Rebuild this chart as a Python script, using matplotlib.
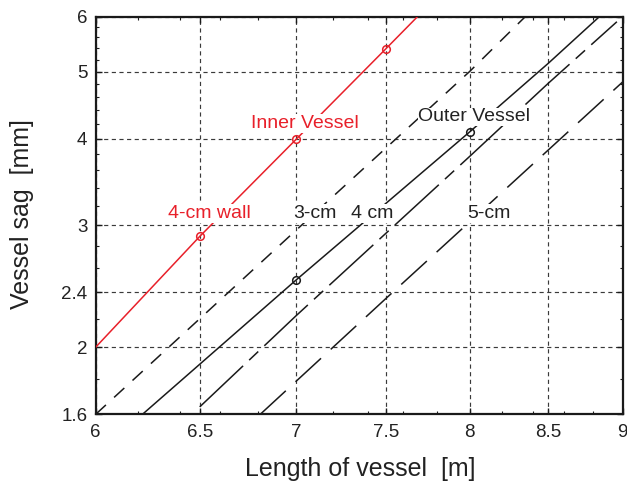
import matplotlib
matplotlib.use("Agg")
import matplotlib.pyplot as plt
from matplotlib.ticker import FixedLocator, NullFormatter, FixedFormatter

plt.rcParams['font.family'] = ['Liberation Sans', 'DejaVu Sans']
plt.rcParams['lines.scale_dashes'] = False

# ---- data ----
inner_L = [6.0, 6.5, 7.0, 7.5, 7.7]
inner_S = [2.0, 2.89, 3.99, 5.39, 6.05]
inner_marks = [1, 2, 3]

cm3_L = [6.0, 7.0, 8.0, 8.35]
cm3_S = [1.6, 2.95, 5.0, 6.0]

cm4_L = [6.22, 7.0, 8.0, 8.5, 8.84]
cm4_S = [1.6, 2.5, 4.09, 5.14, 6.0]
cm4_marks = [1, 2]

mid_L = [6.5, 7.0, 8.0, 8.5, 8.96]
mid_S = [1.64, 2.22, 3.77, 4.81, 5.9]

cm5_L = [6.81, 7.5, 9.0]
cm5_S = [1.6, 2.35, 4.83]

x_ticks = [6, 6.5, 7, 7.5, 8, 8.5, 9]
x_ticklabels = ['6', '6.5', '7', '7.5', '8', '8.5', '9']
x_minor = [6.2, 6.4, 6.6, 6.8, 7.2, 7.4, 7.6, 7.8, 8.2, 8.4, 8.6, 8.8]
y_ticks = [1.6, 2, 2.4, 3, 4, 5, 6]
y_ticklabels = ['1.6', '2', '2.4', '3', '4', '5', '6']
y_minor = [1.8, 2.2, 2.6, 2.8, 3.2, 3.4, 3.6, 3.8, 4.2, 4.4, 4.6, 4.8,
           5.2, 5.4, 5.6, 5.8]

# ---- figure ----
fig = plt.figure(figsize=(6.27, 4.88), dpi=100)
ax = fig.add_axes([0.1526, 0.151, 0.8405, 0.8148])
ax.set_xscale('log')
ax.set_yscale('log')
ax.set_xlim(6, 9)
ax.set_ylim(1.6, 6)

RED = '#e8202a'
BLK = '#1a1a1a'

ax.plot(inner_L, inner_S, color=RED, lw=1.1, marker='o', ms=5.5,
        mfc='none', mec=RED, mew=1.1, markevery=inner_marks, zorder=3)
ax.plot(cm3_L, cm3_S, color=BLK, lw=1.1, dashes=(10, 8), zorder=3)
ax.plot(cm4_L, cm4_S, color=BLK, lw=1.1, marker='o', ms=5.5,
        mfc='none', mec=BLK, mew=1.1, markevery=cm4_marks, zorder=3)
ax.plot(mid_L, mid_S, color=BLK, lw=1.1, dashes=(43, 6, 9, 6), zorder=3)
ax.plot(cm5_L, cm5_S, color=BLK, lw=1.1, dashes=(25, 9.5), zorder=3)

# ---- axes styling ----
ax.xaxis.set_major_locator(FixedLocator(x_ticks))
ax.xaxis.set_major_formatter(FixedFormatter(x_ticklabels))
ax.xaxis.set_minor_locator(FixedLocator(x_minor))
ax.xaxis.set_minor_formatter(NullFormatter())
ax.yaxis.set_major_locator(FixedLocator(y_ticks))
ax.yaxis.set_major_formatter(FixedFormatter(y_ticklabels))
ax.yaxis.set_minor_locator(FixedLocator(y_minor))
ax.yaxis.set_minor_formatter(NullFormatter())

ax.tick_params(which='both', direction='in', top=True, right=True,
               color=BLK, labelsize=13.5, labelcolor='#222')
ax.tick_params(which='major', length=4, width=1.0)
ax.tick_params(which='minor', length=2.5, width=0.8)
ax.tick_params(axis='x', which='major', pad=7)
ax.tick_params(axis='y', which='major', pad=6)

for s in ax.spines.values():
    s.set_linewidth(1.6)
    s.set_color(BLK)

ax.grid(True, which='major', color='#3a3a3a', lw=0.85, dashes=(3, 2.5))
ax.set_axisbelow(True)

bbox = dict(facecolor='white', edgecolor='none', pad=0.6)
txt = dict(fontsize=14, ha='center', va='center', zorder=5, bbox=bbox)
ax.text(7.05, 4.21, 'Inner Vessel', color=RED, **txt)
ax.text(6.55, 3.12, '4-cm wall', color=RED, **txt)
ax.text(8.03, 4.30, 'Outer Vessel', color='#222', **txt)
ax.text(7.10, 3.12, '3-cm', color='#222', **txt)
ax.text(7.42, 3.12, '4 cm', color='#222', **txt)
ax.text(8.12, 3.12, '5-cm', color='#222', **txt)

fig.text(360 / 627, 1 - 469 / 488, 'Length of vessel  [m]', fontsize=18,
         ha='center', va='center', color='#222')
fig.text(22 / 627, 1 - 214 / 488, 'Vessel sag  [mm]', fontsize=18,
         rotation=90, ha='center', va='center', color='#222')

fig.savefig('out.png', dpi=100)
